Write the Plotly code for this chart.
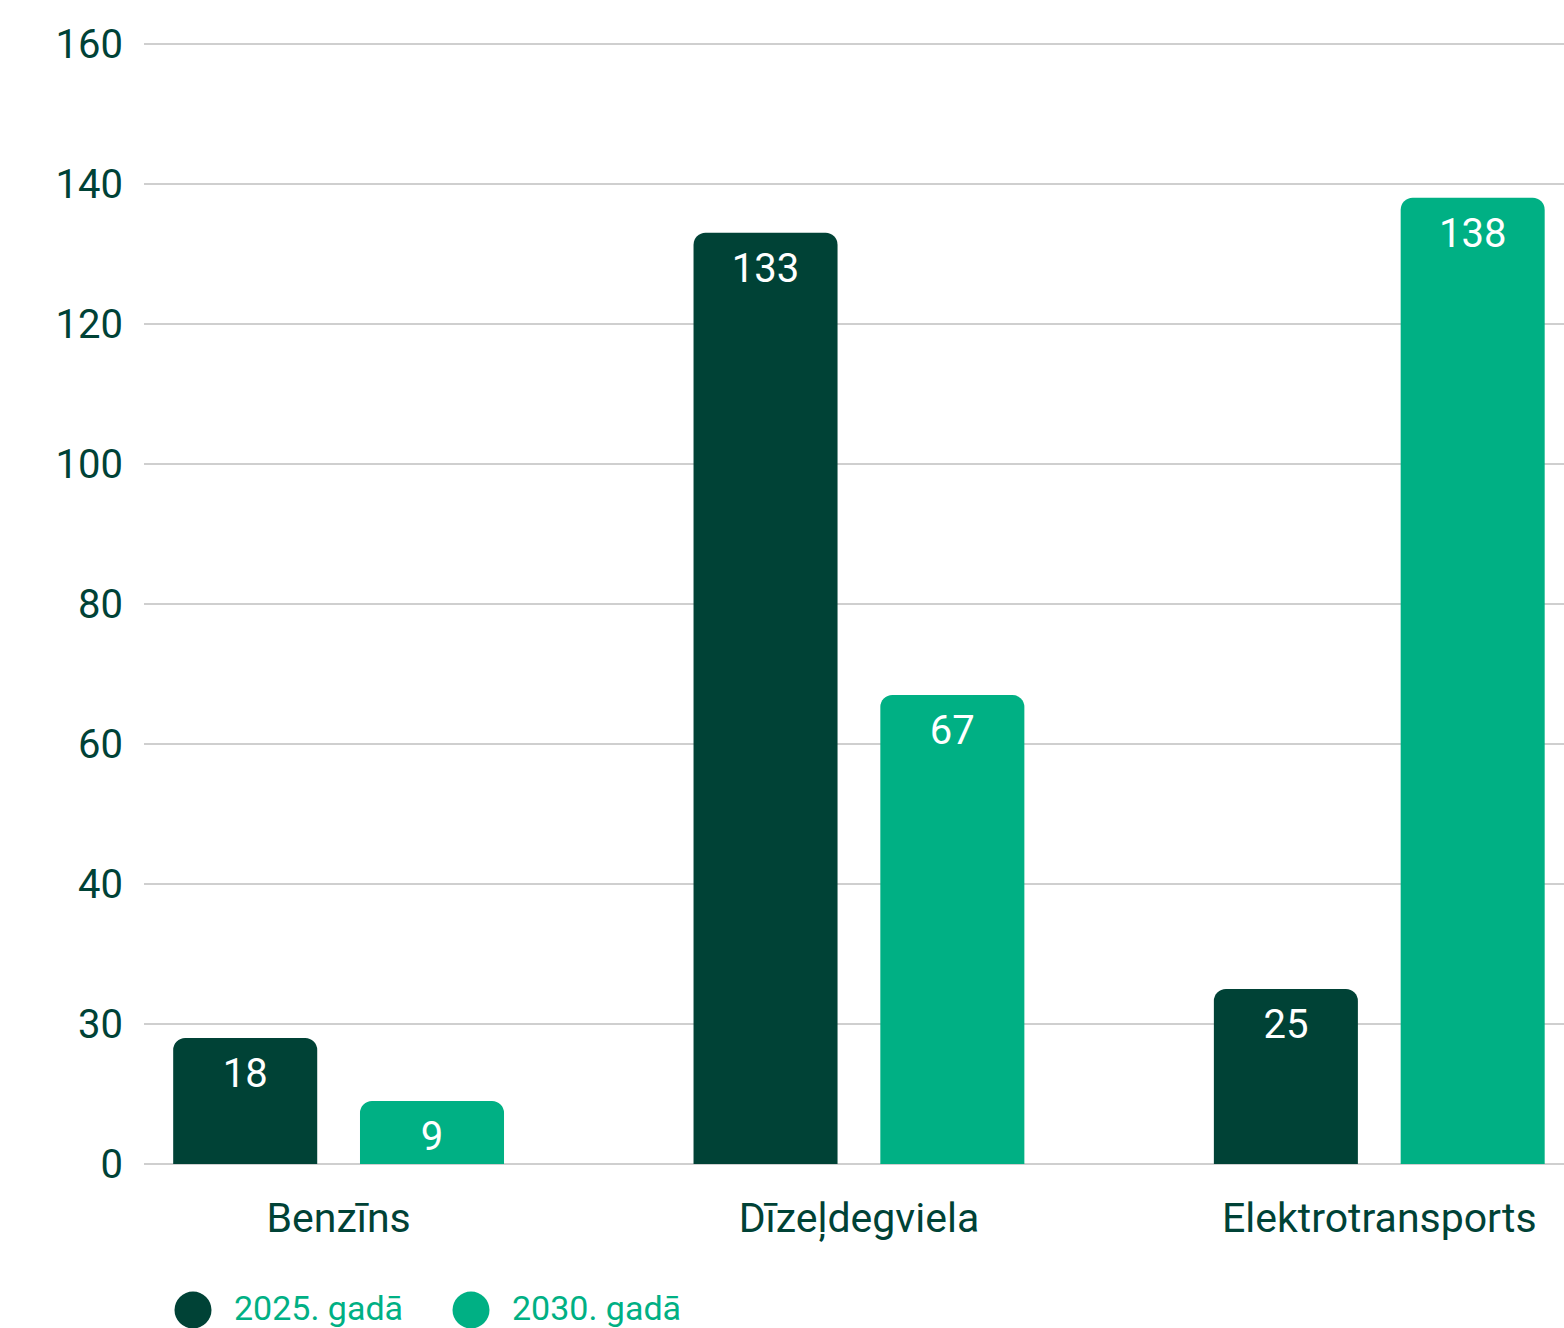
import plotly.graph_objects as go

categories = ["Benzīns", "Dīzeļdegviela", "Elektrotransports"]
series_names = ["2025. gadā", "2030. gadā"]
values_2025 = [18, 133, 25]
values_2030 = [9, 67, 138]
tick_values = [0, 20, 40, 60, 80, 100, 120, 140, 160]
tick_labels = ["0", "30", "40", "60", "80", "100", "120", "140", "160"]

DARK = "#004236"
GREEN = "#00b084"
FONT = "Roboto"

W, H = 1564, 1328
ML, MR, MT, MB = 144, 0, 41, 164
PW, PH = W - ML - MR, H - MT - MB

fig = go.Figure()
for name, vals, col in [(series_names[0], values_2025, DARK), (series_names[1], values_2030, GREEN)]:
    fig.add_trace(go.Bar(
        x=categories, y=vals, name=name, marker=dict(color=col, line=dict(width=0)),
        text=vals, textposition="inside", insidetextanchor="end",
        textfont=dict(family=FONT, size=40, color="white"), textangle=0,
        showlegend=False, cliponaxis=False,
    ))

# legend swatches and labels
def px_x(x):
    return (x - ML) / PW

def px_y(y):
    return (MT + PH - y) / PH

legend_items = [(193, 232, series_names[0], DARK), (471, 510, series_names[1], GREEN)]
for cx, tx, label, col in legend_items:
    fig.add_shape(type="circle", xref="paper", yref="paper",
                  xsizemode="pixel", ysizemode="pixel",
                  xanchor=px_x(cx), yanchor=px_y(1310),
                  x0=-18.5, x1=18.5, y0=-18.5, y1=18.5,
                  fillcolor=col, line=dict(width=0))
    fig.add_annotation(text=label, xref="paper", yref="paper",
                       x=px_x(tx), y=px_y(1308), xanchor="left", yanchor="middle",
                       showarrow=False, font=dict(family=FONT, size=34, color=GREEN))

fig.update_layout(
    width=W, height=H,
    margin=dict(l=ML, r=MR, t=MT, b=MB, pad=0),
    paper_bgcolor="white", plot_bgcolor="white",
    barmode="group", bargap=0.282, bargroupgap=0.229, barcornerradius=12,
    font=dict(family=FONT, color=DARK),
    xaxis=dict(range=[-0.374, 2.355], showgrid=False, zeroline=False, showline=False,
               ticks="", tickfont=dict(family=FONT, size=41, color=DARK),
               ticklabelstandoff=26),
    yaxis=dict(range=[0, 160.4], tickvals=tick_values, ticktext=tick_labels,
               showgrid=True, gridcolor="#cfcfcf", gridwidth=2,
               zeroline=True, zerolinecolor="#cfcfcf", zerolinewidth=2,
               showline=False, ticks="", tickfont=dict(family=FONT, size=40, color=DARK),
               ticklabelstandoff=20),
)

fig.write_html("out.html", config={"displayModeBar": False},
               post_script="document.body.style.margin='0px';")
